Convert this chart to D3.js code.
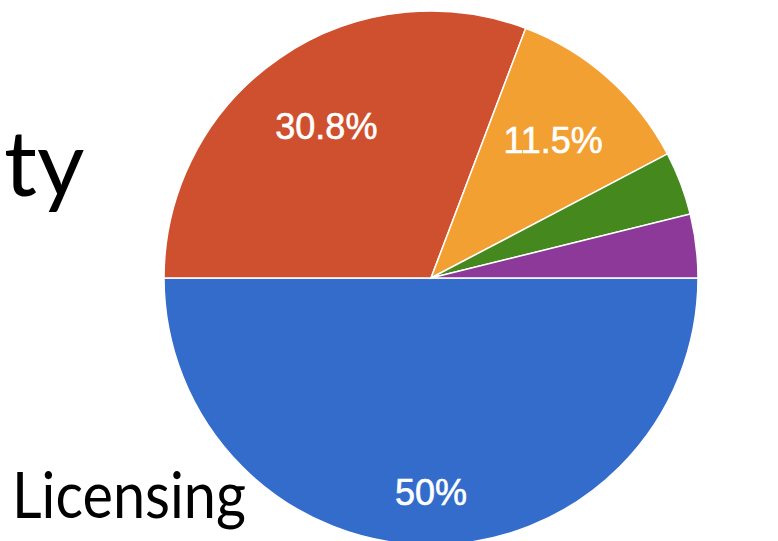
<!DOCTYPE html>
<html>
<head>
<meta charset="utf-8">
<script src="https://cdn.jsdelivr.net/npm/d3@7"></script>
<style>
  body { margin: 0; background: #fff; }
  svg { display: block; }
</style>
</head>
<body>
<div id="chart"></div>
<script>
// responses per answer (26 in total)
var categories = ["A", "B", "C", "D", "E"];
var counts = [13, 8, 3, 1, 1];
var labels = ["50%", "30.8%", "11.5%", "", ""];
var colors = ["#336ccb", "#cf502e", "#f3a033", "#45891e", "#8c3999"];

var width = 778,
    height = 541,
    cx = 431, // pie centre
    cy = 278,
    radius = 267;

var svg = d3.select("#chart").append("svg")
    .attr("width", width)
    .attr("height", height);

var data = categories.map(function (c, i) {
    return {name: c, value: counts[i], label: labels[i], color: colors[i]};
});

// slices start at 3 o'clock and go clockwise
var pie = d3.pie()
    .sort(null)
    .value(function (d) { return d.value; })
    .startAngle(Math.PI / 2)
    .endAngle(Math.PI / 2 + 2 * Math.PI);

var arc = d3.arc().innerRadius(0).outerRadius(radius);

var g = svg.append("g")
    .attr("transform", "translate(" + cx + "," + cy + ")");

var arcs = pie(data);

g.selectAll("path")
    .data(arcs)
    .enter().append("path")
    .attr("d", arc)
    .attr("fill", function (d) { return d.data.color; })
    .attr("stroke", "#fff")
    .attr("stroke-width", 1.5);

g.selectAll("text")
    .data(arcs.filter(function (d) { return d.data.label; }))
    .enter().append("text")
    .attr("transform", function (d) {
        var k = d.data.value >= 13 ? 0.8 : 0.69,
            a = (d.startAngle + d.endAngle) / 2;
        return "translate(" + (Math.sin(a) * radius * k) + "," + (-Math.cos(a) * radius * k) + ")";
    })
    .attr("text-anchor", "middle")
    .attr("dy", "0.36em")
    .attr("fill", "#fff")
    .attr("stroke", "#fff")
    .attr("stroke-width", 0.6)
    .style("font-family", "Liberation Sans, Arial, sans-serif")
    .style("font-size", "36px")
    .text(function (d) { return d.data.label; });

// slide text around the chart
svg.append("text")
    .attr("x", 4)
    .attr("y", 196)
    .style("font-family", "Lato, sans-serif")
    .style("font-size", "92px")
    .attr("fill", "#000")
    .text("ty");

svg.append("text")
    .attr("x", 12)
    .attr("y", 518)
    .attr("textLength", 234)
    .attr("lengthAdjust", "spacingAndGlyphs")
    .style("font-family", "Lato, sans-serif")
    .style("font-size", "64px")
    .attr("fill", "#000")
    .text("Licensing");
</script>
</body>
</html>
